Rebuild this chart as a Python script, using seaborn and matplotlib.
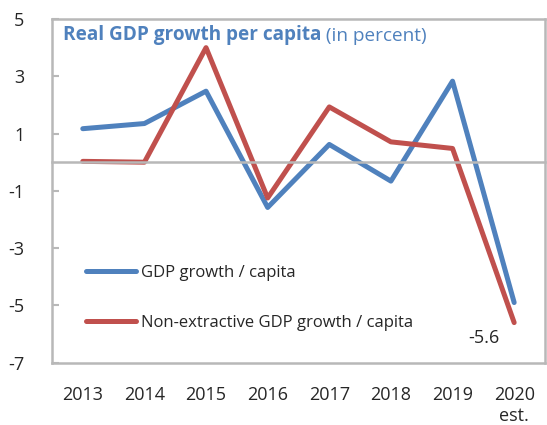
import pandas as pd
import numpy as np
import matplotlib.pyplot as plt
import seaborn as sns

# -------- Data --------
years = ["2013", "2014", "2015", "2016", "2017", "2018", "2019", "2020\nest."]
gdp_pc = [1.17, 1.35, 2.48, -1.58, 0.62, -0.66, 2.83, -4.9]
nonextr_pc = [0.03, 0.0, 4.0, -1.25, 1.93, 0.71, 0.48, -5.6]
series_names = ["GDP growth / capita", "Non-extractive GDP growth / capita"]
yticks = [-7, -5, -3, -1, 1, 3, 5]

df = pd.DataFrame({
    "year": years * 2,
    "value": gdp_pc + nonextr_pc,
    "series": [series_names[0]] * len(years) + [series_names[1]] * len(years),
})

# -------- Style --------
sns.set_style("white")
plt.rcParams["font.family"] = ["Open Sans", "DejaVu Sans"]

BLUE = "#4F81BD"
RED = "#C0504D"
GREY = "#B8B8B8"

fig = plt.figure(figsize=(5.47, 4.25), dpi=100)
ax = fig.add_axes([0.095, 0.1466, 0.9013, 0.8087])

sns.lineplot(data=df, x="year", y="value", hue="series",
             palette=[BLUE, RED], linewidth=3.6, sort=False, ax=ax)

ax.set_xlim(-0.5, len(years) - 0.5)
ax.set_ylim(-7, 5)
ax.set_xlabel("")
ax.set_ylabel("")

# box
for s in ax.spines.values():
    s.set_visible(True)
    s.set_color(GREY)
    s.set_linewidth(1.8)

# bottom spine acts as zero line, with ticks at category boundaries
ax.spines["bottom"].set_position(("data", 0))
ax.set_xticks(np.arange(len(years) - 1) + 0.5)
ax.set_xticklabels([])
ax.tick_params(axis="x", direction="in", length=5, width=1.5, color=GREY)

# real bottom frame + category labels
sec = ax.secondary_xaxis("bottom")
sec.set_xticks(np.arange(len(years)))
sec.set_xticklabels(years)
sec.tick_params(axis="x", length=0, pad=17, labelsize=13)
sec.spines["bottom"].set_color(GREY)
sec.spines["bottom"].set_linewidth(1.8)

ax.set_yticks(yticks)
ax.set_yticklabels([str(v) for v in yticks])
ax.tick_params(axis="y", direction="in", length=5, width=1.5, color=GREY,
               pad=20, labelsize=13, left=True)

# title inside the plot
t1 = ax.text(0.022, 0.939, "Real GDP growth per capita", transform=ax.transAxes,
             fontsize=13.7, fontweight="bold", color=BLUE, va="baseline", ha="left")
ax.annotate(" (in percent)", xy=(1, 0), xycoords=t1, va="bottom", ha="left",
            fontsize=13.7, color=BLUE)

# legend
leg = ax.legend(loc="upper left", bbox_to_anchor=(0.069, 0.285), frameon=False,
                fontsize=12, handlelength=3.0, handletextpad=0.3,
                labelspacing=2.05, borderpad=0, borderaxespad=0)
for line in leg.get_lines():
    line.set_linewidth(3.6)
    line.set_solid_capstyle("round")

# value label for last non-extractive point
ax.annotate(f"{nonextr_pc[-1]:.1f}", xy=(len(years) - 1, nonextr_pc[-1]),
            xytext=(-22, -11), textcoords="offset points",
            ha="center", va="center", fontsize=13)

fig.savefig("out.png", dpi=100)
